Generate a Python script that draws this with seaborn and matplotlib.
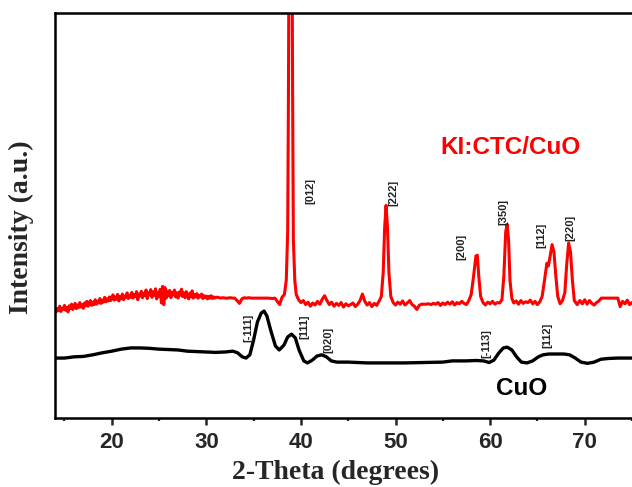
import matplotlib
matplotlib.use("Agg")
import matplotlib.pyplot as plt
import pandas as pd
import seaborn as sns
from matplotlib.ticker import MultipleLocator

# XRD scan of KI:CTC/CuO (2-theta, intensity a.u.)
kictc_scan = [
    (14.000, 272), (14.125, 262), (14.250, 270), (14.375, 265), (14.500, 276), (14.625, 263),
    (14.750, 271), (14.875, 268), (15.000, 278), (15.125, 266), (15.250, 273), (15.375, 262),
    (15.500, 277), (15.625, 270), (15.750, 281), (15.875, 268), (16.000, 276), (16.125, 283),
    (16.250, 270), (16.375, 279), (16.500, 273), (16.625, 285), (16.750, 274), (16.875, 280),
    (17.000, 271), (17.125, 284), (17.250, 277), (17.375, 288), (17.500, 276), (17.625, 283),
    (17.750, 290), (17.875, 278), (18.000, 286), (18.125, 280), (18.250, 292), (18.375, 281),
    (18.500, 289), (18.625, 284), (18.750, 295), (18.875, 283), (19.000, 291), (19.125, 286),
    (19.250, 298), (19.375, 287), (19.500, 294), (19.625, 289), (19.750, 299), (19.875, 290),
    (20.000, 296), (20.125, 304), (20.250, 291), (20.375, 299), (20.500, 293), (20.625, 305),
    (20.750, 289), (20.875, 300), (21.000, 295), (21.125, 306), (21.250, 292), (21.375, 301),
    (21.500, 297), (21.625, 309), (21.750, 295), (21.875, 303), (22.000, 298), (22.125, 310),
    (22.250, 296), (22.375, 305), (22.500, 300), (22.625, 312), (22.750, 292), (22.875, 306),
    (23.000, 301), (23.125, 313), (23.250, 297), (23.375, 308), (23.500, 302), (23.625, 316),
    (23.750, 295), (23.875, 309), (24.000, 304), (24.125, 317), (24.250, 298), (24.375, 311),
    (24.500, 303), (24.625, 319), (24.750, 294), (24.875, 310), (25.000, 300), (25.125, 318),
    (25.250, 284), (25.375, 325), (25.500, 280), (25.625, 322), (25.750, 296), (25.875, 313),
    (26.000, 302), (26.125, 315), (26.250, 297), (26.375, 310), (26.500, 304), (26.625, 316),
    (26.750, 299), (26.875, 309), (27.000, 296), (27.125, 311), (27.250, 303), (27.375, 318),
    (27.500, 300), (27.625, 309), (27.750, 297), (27.875, 312), (28.000, 302), (28.125, 294),
    (28.250, 308), (28.375, 299), (28.500, 314), (28.625, 296), (28.750, 305), (28.875, 299),
    (29.000, 307), (29.125, 296), (29.250, 303), (29.375, 299), (29.500, 306), (29.625, 295),
    (29.750, 302), (29.875, 297), (30.000, 301), (30.125, 294), (30.250, 300), (30.375, 296),
    (30.500, 302), (30.625, 295), (30.750, 299), (30.875, 296), (31.000, 298),
    (31.25, 298), (31.50, 296), (31.75, 297), (32.00, 296), (32.25, 296), (32.50, 297),
    (32.75, 296), (33.00, 296), (33.25, 290), (33.50, 283), (33.75, 294), (34.00, 297),
    (34.25, 296), (34.50, 297), (34.75, 296), (35.00, 296), (35.50, 296), (36.00, 296),
    (36.50, 296), (37.00, 295), (37.25, 296), (37.50, 288), (37.75, 280), (38.00, 298),
    (38.25, 305), (38.45, 340), (38.60, 460), (38.68, 800), (38.76, 1300), (38.82, 1600),
    (38.98, 1600), (39.04, 1300), (39.12, 800), (39.20, 440), (39.35, 340), (39.50, 305),
    (39.75, 292), (40.00, 285), (40.25, 290), (40.50, 280), (40.75, 286), (41.00, 276),
    (41.25, 284), (41.50, 279), (41.75, 288), (42.00, 281), (42.25, 293), (42.50, 302),
    (42.75, 290), (43.00, 280), (43.25, 286), (43.50, 276), (43.75, 283), (44.00, 278),
    (44.25, 285), (44.50, 274), (44.75, 282), (45.00, 277), (45.25, 280), (45.50, 284),
    (45.75, 275), (46.00, 281), (46.25, 290), (46.50, 306), (46.75, 288), (47.00, 279),
    (47.25, 285), (47.50, 275), (47.75, 283), (48.00, 278), (48.25, 288), (48.50, 300),
    (48.70, 360), (48.85, 470), (49.00, 525), (49.15, 470), (49.30, 360), (49.50, 300),
    (49.75, 285), (50.00, 279), (50.25, 286), (50.50, 281), (50.75, 289), (51.00, 279),
    (51.25, 284), (51.50, 290), (51.75, 280), (52.00, 276), (52.25, 268), (52.50, 278),
    (52.75, 281), (53.00, 281), (53.25, 281), (53.50, 282), (53.75, 280), (54.00, 283),
    (54.25, 281), (54.50, 285), (54.75, 278), (55.00, 284), (55.25, 280), (55.50, 286),
    (55.75, 281), (56.00, 287), (56.25, 279), (56.50, 285), (56.75, 282), (57.00, 288),
    (57.25, 283), (57.50, 280), (57.75, 290), (58.00, 305), (58.25, 350), (58.50, 400),
    (58.65, 402), (58.80, 350), (59.00, 300), (59.25, 285), (59.50, 279), (59.75, 286),
    (60.00, 282), (60.25, 288), (60.50, 281), (60.75, 285), (61.00, 284), (61.25, 292),
    (61.45, 350), (61.65, 460), (61.80, 478), (61.95, 440), (62.10, 340), (62.30, 295),
    (62.50, 284), (62.75, 289), (63.00, 281), (63.25, 290), (63.50, 283), (63.75, 287),
    (64.00, 285), (64.25, 291), (64.50, 282), (64.75, 288), (65.00, 280), (65.25, 287),
    (65.50, 300), (65.75, 340), (66.00, 382), (66.15, 375), (66.35, 400), (66.55, 428),
    (66.75, 410), (66.95, 350), (67.15, 300), (67.40, 282), (67.65, 290), (67.90, 310),
    (68.10, 380), (68.30, 432), (68.50, 410), (68.70, 340), (68.90, 290), (69.20, 280),
    (69.50, 290), (69.75, 282), (70.00, 292), (70.25, 281), (70.50, 290), (70.75, 283),
    (71.00, 279), (71.25, 285), (71.50, 289), (71.75, 296), (72.00, 296), (72.50, 296),
    (73.00, 296), (73.50, 296), (73.75, 275), (74.00, 288), (74.25, 282), (74.50, 291),
    (74.75, 280), (75.00, 285),
]

# XRD scan of bare CuO
cuo_scan = [
    (14.0, 148), (15.0, 148), (16.0, 151), (17.0, 152), (18.0, 156), (19.0, 161),
    (20.0, 165), (21.0, 170), (22.0, 173), (23.0, 173), (24.0, 172), (25.0, 170),
    (26.0, 169), (27.0, 168), (28.0, 165), (29.0, 164), (30.0, 163), (31.0, 162),
    (32.0, 163), (32.8, 165), (33.3, 161), (33.8, 151), (34.2, 148), (34.6, 156),
    (35.0, 193), (35.4, 237), (35.8, 259), (36.1, 264), (36.4, 252), (36.8, 217),
    (37.3, 178), (37.7, 168), (38.2, 180), (38.6, 200), (39.0, 207), (39.4, 198),
    (39.8, 168), (40.3, 141), (40.7, 136), (41.2, 143), (41.7, 153), (42.2, 156),
    (42.7, 151), (43.2, 141), (43.8, 138), (45.0, 138), (47.0, 136), (49.0, 136),
    (51.0, 136), (53.0, 137), (55.0, 138), (56.0, 141), (57.5, 141), (58.5, 142),
    (59.3, 141), (59.9, 137), (60.4, 143), (60.9, 160), (61.4, 173), (61.8, 175),
    (62.3, 168), (62.8, 151), (63.3, 138), (63.9, 136), (64.5, 141), (65.1, 151),
    (65.6, 156), (66.2, 158), (67.0, 158), (67.8, 158), (68.4, 156), (69.0, 148),
    (69.6, 138), (70.3, 135), (71.0, 138), (71.7, 145), (72.5, 147), (73.5, 148),
    (75.0, 148),
]

# peak index labels: (text, 2-theta, intensity)
kictc_peaks = [("[012]", 41.0, 561), ("[222]", 49.8, 556), ("[200]", 57.0, 422),
               ("[350]", 61.35, 509), ("[112]", 65.45, 452), ("[220]", 68.45, 469)]
cuo_peaks = [("[-111]", 34.4, 222), ("[111]", 40.4, 225), ("[020]", 42.85, 193),
             ("[-113]", 59.6, 185), ("[112]", 66.1, 203)]

sns.set_theme(style="ticks")
plt.rcParams["font.family"] = ["Liberation Sans", "DejaVu Sans"]

red = pd.DataFrame(kictc_scan, columns=["theta", "intensity"])
black = pd.DataFrame(cuo_scan, columns=["theta", "intensity"])

fig = plt.figure(figsize=(6.32, 4.87), dpi=100)
ax = fig.add_axes([55 / 632, 69 / 487, 577 / 632, 405 / 487])

sns.lineplot(data=red, x="theta", y="intensity", color="#ff0000", lw=2.2,
             estimator=None, sort=False, ax=ax)
sns.lineplot(data=black, x="theta", y="intensity", color="black", lw=2.4,
             estimator=None, sort=False, ax=ax)

for txt, x, y in kictc_peaks + cuo_peaks:
    ax.text(x, y, txt, rotation=90, ha="center", va="center",
            fontsize=8, fontweight="bold", color="#222222")

ax.text(62.2, 667, "KI:CTC/CuO", color="#ff0000", fontsize=17.5,
        fontweight="bold", ha="center", va="center")
ax.text(63.35, 74, "CuO", color="black", fontsize=17.5,
        fontweight="bold", ha="center", va="center")

ax.set_xlim(14, 75)
ax.set_ylim(0, 1000)
ax.xaxis.set_major_locator(MultipleLocator(10))
ax.xaxis.set_minor_locator(MultipleLocator(5))
ax.set_yticks([])
ax.tick_params(axis="x", which="major", direction="out", length=5, width=1.8,
               pad=5, labelsize=16)
ax.tick_params(axis="x", which="minor", direction="out", length=2.5, width=1.6)
for lab in ax.get_xticklabels():
    lab.set_fontweight("bold")

for side in ["left", "bottom", "top"]:
    ax.spines[side].set_linewidth(1.8)
    ax.spines[side].set_color("black")
ax.spines["right"].set_visible(False)

ax.set_xlabel("2-Theta (degrees)", family="Liberation Serif", fontweight="bold",
              fontsize=20)
ax.set_ylabel("Intensity (a.u.)", family="Liberation Serif", fontweight="bold",
              fontsize=20)
ax.xaxis.set_label_coords(0.487, -0.104)
ax.yaxis.set_label_coords(-0.036, 0.47)

fig.savefig("out.png", dpi=100)
